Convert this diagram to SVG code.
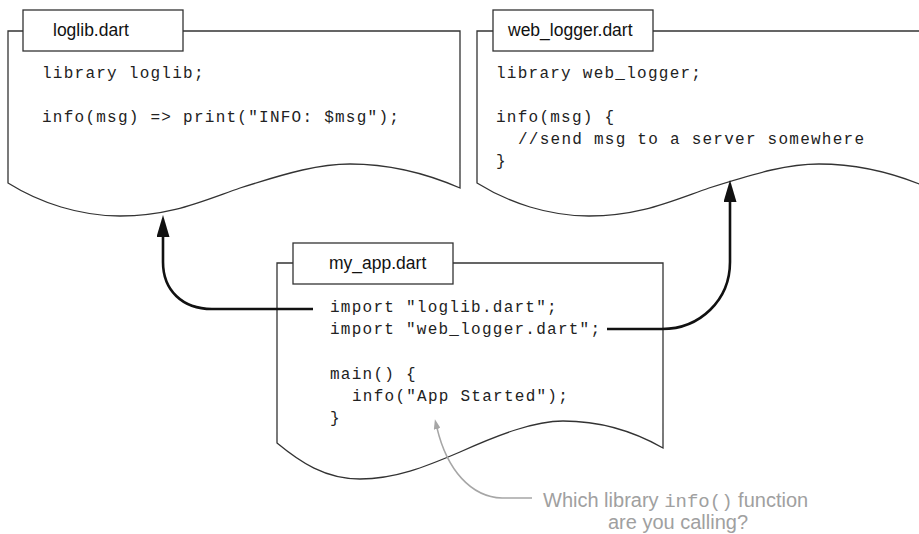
<svg xmlns="http://www.w3.org/2000/svg" width="919" height="534" viewBox="0 0 919 534">
<style>
.doc{fill:#fff;stroke:#333;stroke-width:1.3}
.tab{fill:#fff;stroke:#333;stroke-width:1.3}
.title{font-family:"Liberation Sans",Arial,sans-serif;font-size:17.5px;fill:#111}
.code{font-family:"Liberation Mono","Courier New",monospace;font-size:16px;letter-spacing:1.25px;fill:#222}
.conn{fill:none;stroke:#111;stroke-width:2.6}
.gconn{fill:none;stroke:#a6a6a6;stroke-width:1.5}
.cap{font-family:"Liberation Sans",Arial,sans-serif;font-size:20px;fill:#a0a0a0}
.capm{font-family:"Liberation Mono","Courier New",monospace;font-size:19px;fill:#a0a0a0}
</style>
<defs>
<marker id="ah" markerUnits="userSpaceOnUse" viewBox="0 0 22 13" markerWidth="22" markerHeight="13" refX="4" refY="6.5" orient="auto">
<path d="M0,0 L22,6.5 L0,13 Z" fill="#111"/>
</marker>
<marker id="gh" markerUnits="userSpaceOnUse" viewBox="0 0 10 7" markerWidth="10" markerHeight="7" refX="1" refY="3.5" orient="auto">
<path d="M0,0 L10,3.5 L0,7 Z" fill="#a6a6a6"/>
</marker>
</defs>

<g id="loglib">
<path class="doc" d="M8,31 H460 V188 C430,175 390,164 350,164 C320,164 290,172 240,188 C200,202 170,216 120,216 C80,216 40,203 8,183 Z"/>
<rect class="tab" x="23" y="10" width="160" height="41"/>
<text class="title" x="53" y="36">loglib.dart</text>
<text class="code" x="42" y="78">library loglib;</text>
<text class="code" x="42" y="122">info(msg) =&gt; print("INFO: $msg");</text>
</g>

<g id="web_logger">
<path class="doc" d="M477,31 H929 V188 C899,175 859,164 819,164 C789,164 759,172 709,188 C669,202 639,216 589,216 C549,216 509,203 477,183 Z"/>
<rect class="tab" x="493" y="10" width="160" height="41"/>
<text class="title" x="508" y="36">web_logger.dart</text>
<text class="code" x="496" y="78">library web_logger;</text>
<text class="code" x="496" y="122">info(msg) {</text>
<text class="code" x="518" y="144">//send msg to a server somewhere</text>
<text class="code" x="496" y="166">}</text>
</g>

<g id="my_app">
<path class="doc" d="M277,263 H663 V448 C635,432 600,421 563,421 C535,421 500,434 460,452 C425,467 395,479 360,479 C325,479 300,462 277,443 Z"/>
<rect class="tab" x="293" y="243" width="160" height="41"/>
<text class="title" x="329" y="269">my_app.dart</text>
<text class="code" x="330" y="312">import "loglib.dart";</text>
<text class="code" x="330" y="334">import "web_logger.dart";</text>
<text class="code" x="330" y="379">main() {</text>
<text class="code" x="352" y="401">info("App Started");</text>
<text class="code" x="330" y="423">}</text>
</g>

<g id="connectors">
<path class="conn" marker-end="url(#ah)" d="M313,309 H212 C182,309 163,290 163,262 V233"/>
<path class="conn" marker-end="url(#ah)" d="M607,329 H662 C700,329 730,300 730,262 V198"/>
<path class="gconn" marker-end="url(#gh)" d="M532,498 H502 C471,497 447,470 437,428"/>
</g>

<g id="caption">
<text class="cap" x="543" y="507">Which library <tspan class="capm">info()</tspan> function</text>
<text class="cap" x="678" y="529" text-anchor="middle">are you calling?</text>
</g>
</svg>
